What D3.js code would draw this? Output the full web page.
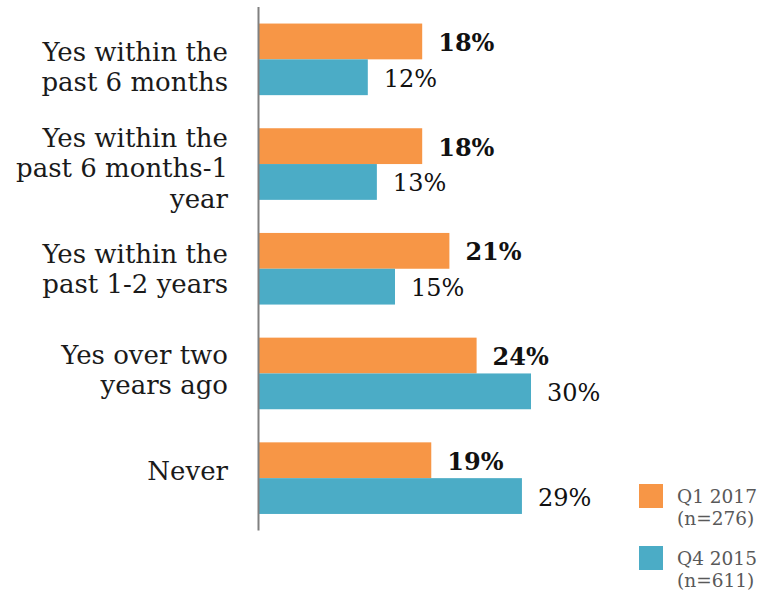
<!DOCTYPE html>
<html>
<head>
<meta charset="utf-8">
<script src="https://cdnjs.cloudflare.com/ajax/libs/d3/7.8.5/d3.min.js"></script>
<style>
  html, body { margin: 0; padding: 0; background: #fff; }
  svg { display: block; font-family: "DejaVu Serif", serif; }
</style>
</head>
<body>
<svg width="760" height="594"></svg>
<script>
const categories = [
    ["Yes within the", "past 6 months"],
    ["Yes within the", "past 6 months-1", "year"],
    ["Yes within the", "past 1-2 years"],
    ["Yes over two", "years ago"],
    ["Never"]
];
const seriesNames = ["Q1 2017", "Q4 2015"];
const seriesSizes = ["(n=276)", "(n=611)"];
const q1_2017 = [18, 18, 21, 24, 19];
const q4_2015 = [12, 13, 15, 30, 29];
const colors = ["#F79646", "#4BACC6"];

const keys = categories.map((c, i) => i);
const series = [q1_2017, q4_2015];

const svg = d3.select("svg");

const y = d3.scaleBand()
    .domain(keys)
    .range([7, 530.5])
    .paddingInner(0.316)
    .paddingOuter(0.158);
const ySub = d3.scaleBand()
    .domain([0, 1])
    .range([0, y.bandwidth()]);
// category labels sit on a slightly tighter spacing than the bars
const yLabel = d3.scalePoint()
    .domain(keys)
    .range([76, 480]);
const x = d3.scaleLinear()
    .domain([0, 30])
    .range([259, 531]);

const groups = svg.selectAll(".group")
    .data(keys)
    .enter().append("g")
    .attr("class", "group")
    .attr("transform", d => `translate(0,${y(d)})`);

series.forEach((vals, s) => {
    groups.append("rect")
        .attr("x", x(0))
        .attr("y", ySub(s))
        .attr("width", d => x(vals[d]) - x(0))
        .attr("height", ySub.bandwidth())
        .attr("fill", colors[s]);

    groups.append("text")
        .attr("x", d => x(vals[d]) + 16)
        .attr("y", ySub(s) + ySub.bandwidth() / 2 + 9.5)
        .attr("font-size", 24)
        .attr("font-weight", s === 0 ? "bold" : "normal")
        .attr("fill", "#111")
        .text(d => vals[d] + "%");
});

// category labels, right aligned against the axis
const lineH = 30.5;
svg.selectAll(".cat")
    .data(keys)
    .enter().append("text")
    .attr("class", "cat")
    .attr("text-anchor", "end")
    .attr("font-size", 26)
    .attr("fill", "#1a1a1a")
    .each(function(d) {
        const lines = categories[d];
        const y0 = yLabel(d) - (lines.length - 1) / 2 * lineH;
        d3.select(this).selectAll("tspan")
            .data(lines)
            .enter().append("tspan")
            .attr("x", 228)
            .attr("y", (l, i) => y0 + i * lineH)
            .text(l => l);
    });

// axis line
svg.append("line")
    .attr("x1", x(0) - 0.5).attr("x2", x(0) - 0.5)
    .attr("y1", y.range()[0]).attr("y2", y.range()[1])
    .attr("stroke", "#808080")
    .attr("stroke-width", 2);

// legend
const legend = svg.selectAll(".legend")
    .data(seriesNames)
    .enter().append("g")
    .attr("class", "legend")
    .attr("transform", (d, i) => `translate(639,${484 + i * 62})`);
legend.append("rect")
    .attr("width", 24).attr("height", 24)
    .attr("fill", (d, i) => colors[i]);
legend.append("text")
    .attr("x", 38).attr("y", 19)
    .attr("font-size", 18.5)
    .attr("fill", "#595959")
    .text(d => d);
legend.append("text")
    .attr("x", 38).attr("y", 41)
    .attr("font-size", 18.5)
    .attr("fill", "#595959")
    .text((d, i) => seriesSizes[i]);
</script>
</body>
</html>
